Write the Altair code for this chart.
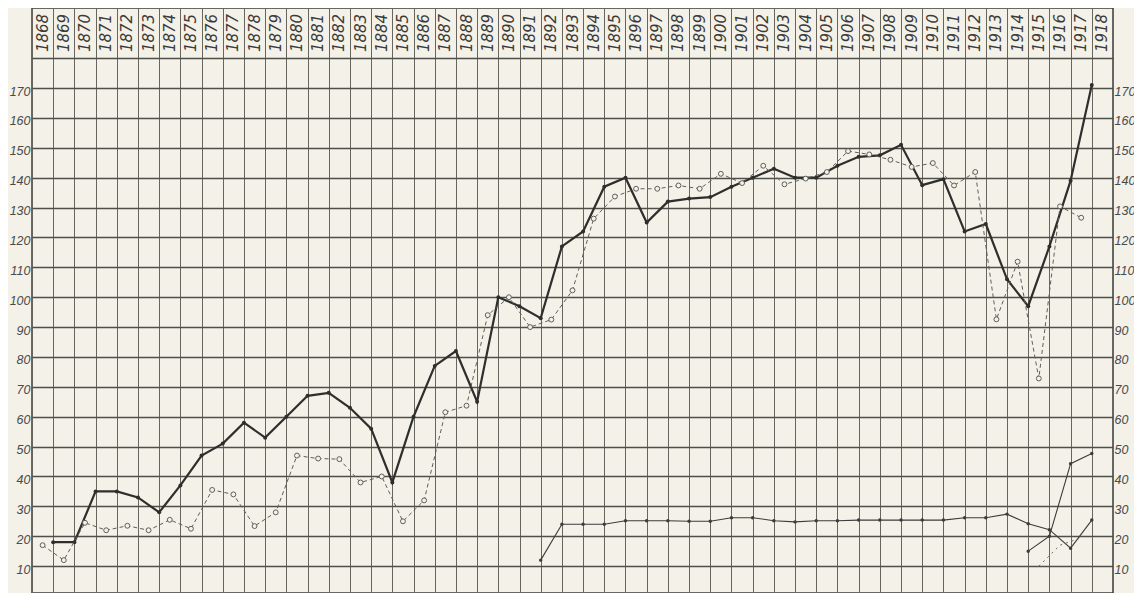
import altair as alt
import pandas as pd

# ---- data ----
years_header = list(range(1868, 1919))

# thick solid line (points sit on the column boundaries, year|year+1)
main_years = list(range(1868, 1918))
main_values = [18, 18, 35, 35, 33, 28, 37, 47, 51, 58, 53, 60, 67, 68, 63, 56, 38, 60,
               77, 82, 65, 100, 97, 93, 117, 122, 137, 140, 125, 132, 133, 133.5, 137,
               140, 143, 140, 140, 144, 147, 147.5, 151, 137.5, 139.5, 122, 124.5, 106,
               97, 117, 139, 171]

# dashed line with open circles (points at column centres)
dash_years = list(range(1868, 1918))
dash_values = [17, 12, 24.5, 22, 23.5, 22, 25.5, 22.5, 35.5, 34, 23.4, 28, 47, 46, 45.8,
               38, 40, 25, 32, 61.5, 63.7, 94, 100, 90, 92.5, 102.3, 126.3, 133.7, 136.3,
               136.3, 137.4, 136.3, 141.3, 138.2, 144, 137.8, 139.7, 141.9, 148.9, 147.8,
               146, 143.6, 144.9, 137.4, 141.9, 92.6, 111.9, 72.8, 130.4, 126.6]

# thin solid line at the bottom (column boundaries)
low_years = list(range(1891, 1918))
low_values = [12, 24, 24, 24, 25.2, 25.2, 25.2, 25, 25, 26.2, 26.2, 25.2, 24.8, 25.2,
              25.2, 25.4, 25.4, 25.4, 25.4, 25.4, 26.2, 26.2, 27.4, 24.2, 22.2, 16, 25.4]

# short thin solid line at the end (column boundaries)
end_years = [1914, 1915, 1916, 1917]
end_values = [15, 20, 44.3, 47.7]

# short dotted line at the end (column centres)
dot_years = [1915, 1916, 1917]
dot_values = [10, 17, 19.5]

y_ticks = list(range(10, 190, 10))
col_edges = [y - 0.5 for y in years_header] + [years_header[-1] + 0.5]

BG = "#f3f1e8"
INK = "#2e2e2c"

main_df = pd.DataFrame({"year": main_years, "value": main_values})
dash_df = pd.DataFrame({"year": dash_years, "value": dash_values})
low_df = pd.DataFrame({"year": low_years, "value": low_values})
end_df = pd.DataFrame({"year": end_years, "value": end_values})
dot_df = pd.DataFrame({"year": dot_years, "value": dot_values})
hdr_df = pd.DataFrame({"year": years_header, "label": [str(y) for y in years_header]})

xscale = alt.Scale(domain=[1867.5, 1918.5], nice=False, zero=False)
yscale = alt.Scale(domain=[1, 196.8], nice=False, zero=False)

label_font = dict(labelFont="Liberation Sans", labelFontStyle="italic", labelFontSize=12.5,
                  labelColor="#4a4a48")

x_grid = alt.X("x:Q", scale=xscale,
               axis=alt.Axis(values=col_edges, labels=False, ticks=False, domain=False,
                             grid=True, gridColor="#66665f", gridWidth=1, title=None))

y_left = alt.Y("value:Q", scale=yscale,
               axis=alt.Axis(orient="left", values=y_ticks, ticks=False, domain=False,
                             grid=True, gridColor="#4f4f4a", gridWidth=1.3, title=None,
                             labelExpr="datum.value > 175 ? '' : datum.label",
                             labelPadding=2, labelOffset=3, **label_font))
y_right = alt.Y("value:Q", scale=yscale,
                axis=alt.Axis(orient="right", values=y_ticks, ticks=False, domain=False,
                              grid=False, title=None,
                              labelExpr="datum.value > 175 ? '' : datum.label",
                              labelPadding=1, labelOffset=3, **label_font))
y_plain = alt.Y("value:Q", scale=yscale, axis=None)

main_line = alt.Chart(main_df).transform_calculate(x="datum.year + 0.5").mark_line(
    color=INK, strokeWidth=2.2, point=alt.OverlayMarkDef(filled=True, color=INK, size=16)
).encode(x=x_grid, y=y_left)

dash_line = alt.Chart(dash_df).transform_calculate(x="datum.year").mark_line(
    color="#5f5f5a", strokeWidth=1, strokeDash=[4, 3]
).encode(x=x_grid, y=y_right)

dash_pts = alt.Chart(dash_df).transform_calculate(x="datum.year").mark_point(
    shape="circle", size=24, filled=True, fill=BG, stroke="#5f5f5a", strokeWidth=1, opacity=1
).encode(x=x_grid, y=y_plain)

low_line = alt.Chart(low_df).transform_calculate(x="datum.year + 0.5").mark_line(
    color="#3c3c3a", strokeWidth=1.1,
    point=alt.OverlayMarkDef(filled=True, color="#3c3c3a", size=12)
).encode(x=x_grid, y=y_plain)

end_line = alt.Chart(end_df).transform_calculate(x="datum.year + 0.5").mark_line(
    color="#3c3c3a", strokeWidth=1.1,
    point=alt.OverlayMarkDef(filled=True, color="#3c3c3a", size=12)
).encode(x=x_grid, y=y_plain)

dot_line = alt.Chart(dot_df).transform_calculate(x="datum.year").mark_line(
    color="#6a6a66", strokeWidth=1, strokeDash=[2, 4]
).encode(x=x_grid, y=y_plain)

header = alt.Chart(hdr_df).transform_calculate(x="datum.year").mark_text(
    angle=270, align="center", baseline="middle", font="DejaVu Sans",
    fontStyle="italic", fontSize=15, color="#3a3a38"
).encode(x=x_grid, y=alt.value(25), text="label:N")

chart = alt.layer(
    main_line, dash_line, dash_pts, low_line, end_line, dot_line, header
).resolve_axis(y="independent").properties(
    width=1081, height=585, background=BG,
    padding={"left": 24, "top": 0, "right": 21, "bottom": 0},
    autosize=alt.AutoSizeParams(type="none")
).configure_view(stroke="#3a3a38", strokeWidth=1.5, fill=BG)

chart.save("out.html", embed_options={"renderer": "svg", "actions": False})
